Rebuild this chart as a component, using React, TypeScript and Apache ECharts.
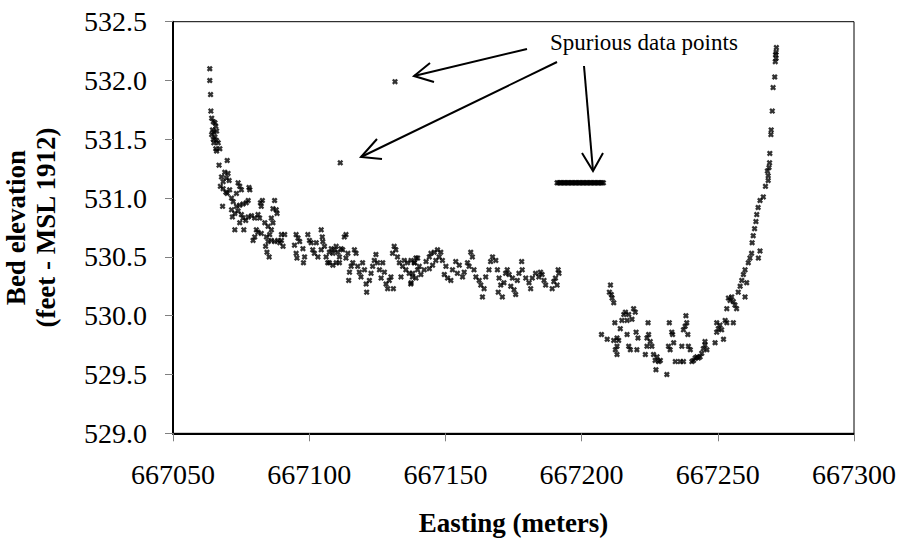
import React, { useEffect, useRef } from "react";
import * as echarts from "echarts";

// Easting (m), bed elevation (ft)
const leftReach: [number, number][] = [
  [667063.5,532.10],[667063.5,532.00],[667063.8,531.88],[667063.9,531.74],[667064.2,531.68],[667064.8,531.65],
  [667065.4,531.64],[667065.7,531.61],[667064.5,531.58],[667065.0,531.56],[667066.0,531.57],[667064.2,531.54],
  [667065.4,531.52],[667064.8,531.50],[667066.0,531.49],[667065.0,531.47],[667066.6,531.47],[667065.7,531.42],
  [667067.2,531.42],[667066.0,531.40],[667066.9,531.28],[667069.9,531.32],[667069.0,531.22],[667070.2,531.21],
  [667067.8,531.18],[667069.6,531.17],[667068.4,531.14],[667070.6,531.15],[667067.4,531.10],[667068.4,531.08],
  [667069.4,531.05],[667070.8,531.07],[667069.9,531.04],[667068.2,530.93],[667071.5,531.00],[667072.1,530.97],
  [667073.3,531.04],[667073.9,531.13],[667074.5,531.10],[667075.1,531.07],[667077.9,531.09],[667078.2,531.07],
  [667077.6,530.98],[667076.9,530.96],[667075.7,530.95],[667074.5,530.94],[667073.3,530.93],[667071.5,530.90],
  [667072.7,530.87],[667071.8,530.84],[667073.9,530.89],[667075.1,530.86],[667075.7,530.83],[667074.5,530.79],
  [667072.7,530.73],[667076.0,530.73],[667076.7,530.81],[667077.6,530.84],[667078.8,530.85],[667080.0,530.83],
  [667081.2,530.86],[667081.8,530.83],[667082.4,530.93],[667082.1,530.96],[667082.8,530.98],[667083.7,530.79],
  [667084.9,530.76],[667086.1,530.83],[667086.7,530.91],[667087.3,530.98],[667087.9,530.90],[667088.2,530.87],
  [667086.7,530.79],[667086.1,530.73],[667085.5,530.69],[667080.6,530.73],[667080.0,530.67],[667079.4,530.64],
  [667081.2,530.71],[667082.4,530.70],[667084.3,530.67],[667084.9,530.63],[667084.0,530.59],[667084.5,530.54],
  [667085.3,530.50],[667086.1,530.64],[667087.3,530.63],[667088.5,530.64],[667089.2,530.62],[667089.8,530.69],
  [667091.0,530.69],[667090.4,530.59],[667089.8,530.64],[667095.2,530.69],[667095.9,530.66],[667096.5,530.63],
  [667094.6,530.60],[667095.2,530.53],[667095.5,530.49],[667097.7,530.57],[667098.3,530.50],[667097.9,530.45],
  [667099.5,530.69],[667100.1,530.64],[667100.7,530.62],[667101.3,530.56],[667101.9,530.53],[667102.6,530.62],
  [667103.2,530.50],[667104.4,530.73],[667104.8,530.67],[667105.0,530.63],[667105.6,530.59],[667104.4,530.56],
  [667106.2,530.50],[667106.8,530.45],[667107.4,530.54],[667108.1,530.57],[667108.7,530.53],[667109.3,530.56],
  [667109.9,530.59],[667110.5,530.54],[667111.1,530.50],[667111.7,530.57],[667112.3,530.56],[667111.1,530.45],
  [667109.9,530.45],[667108.7,530.43],[667107.4,530.45],[667112.9,530.67],[667113.5,530.69],[667113.5,530.49],
  [667114.2,530.53],[667114.8,530.37],[667115.4,530.42],[667114.5,530.30],[667116.0,530.45],[667116.6,530.56],
  [667117.2,530.53],[667117.8,530.42],[667118.4,530.37],[667119.0,530.33],[667119.6,530.45],[667120.3,530.39],
  [667120.9,530.27],[667121.1,530.20],[667122.1,530.30],[667122.7,530.36],[667123.3,530.42],[667123.9,530.47],
  [667124.5,530.52],[667125.1,530.45],[667125.8,530.39],[667126.4,530.32],[667127.0,530.45],[667127.6,530.37],
  [667128.2,530.27],[667128.8,530.23],[667129.4,530.30],[667130.0,530.33],[667130.6,530.53],[667130.9,530.23],
  [667131.2,530.59],[667131.8,530.56],[667132.4,530.50],[667133.1,530.45],[667133.7,530.33],[667134.3,530.42],
  [667134.9,530.47],[667135.5,530.39],[667136.1,530.45],[667136.7,530.36],[667137.3,530.27],[667137.9,530.33],
  [667138.6,530.45],[667139.2,530.49],[667139.8,530.39],
];

const midReach: [number, number][] = [
  [667137.4,530.47],[667138.6,530.45],[667139.8,530.49],[667138.0,530.36],[667137.4,530.28],[667139.2,530.32],
  [667141.0,530.35],[667140.4,530.42],[667142.2,530.39],[667142.9,530.46],[667144.1,530.50],[667144.7,530.53],
  [667145.9,530.54],[667147.1,530.56],[667148.3,530.54],[667147.7,530.50],[667146.5,530.47],[667145.3,530.43],
  [667144.1,530.40],[667148.9,530.47],[667150.2,530.42],[667149.6,530.35],[667150.8,530.32],[667152.0,530.30],
  [667152.6,530.39],[667153.8,530.46],[667155.1,530.43],[667154.4,530.36],[667156.3,530.33],[667156.9,530.37],
  [667158.1,530.45],[667159.3,530.54],[667159.9,530.50],[667158.7,530.42],[667160.5,530.39],[667161.2,530.33],
  [667162.4,530.30],[667163.0,530.26],[667163.6,530.16],[667164.2,530.23],[667164.8,530.33],[667166.0,530.39],
  [667166.6,530.46],[667167.3,530.50],[667168.5,530.47],[667169.1,530.39],[667169.7,530.32],[667170.3,530.26],
  [667169.4,530.20],[667170.9,530.16],[667171.5,530.28],[667172.1,530.36],[667172.7,530.39],[667173.4,530.35],
  [667174.6,530.32],[667174.0,530.25],[667175.2,530.22],[667175.8,530.18],[667176.4,530.30],[667177.0,530.36],
  [667178.0,530.46],[667178.2,530.39],[667179.5,530.32],[667180.7,530.28],[667181.3,530.23],[667181.9,530.32],
  [667183.1,530.36],[667184.3,530.33],[667184.9,530.37],[667185.5,530.35],[667186.2,530.30],[667186.8,530.26],
  [667189.2,530.23],[667189.8,530.29],[667190.4,530.32],[667191.4,530.39],[667191.0,530.26],[667191.7,530.36],
];

const rightReach: [number, number][] = [
  [667210.6,530.26],[667210.2,530.20],[667210.9,530.18],[667211.2,530.15],[667211.8,530.11],[667207.3,529.84],
  [667209.4,529.80],[667211.8,529.79],[667213.0,529.81],[667213.6,529.79],[667213.0,529.74],[667212.4,529.71],
  [667213.0,529.67],[667212.2,529.94],[667214.2,529.89],[667214.8,529.96],[667215.5,530.01],[667216.1,530.03],
  [667216.7,529.96],[667217.3,530.01],[667218.5,529.97],[667219.1,530.06],[667219.7,530.03],[667216.7,529.84],
  [667217.3,529.74],[667217.9,529.71],[667220.3,529.71],[667220.0,529.86],[667220.7,529.81],[667223.4,529.67],
  [667224.0,529.74],[667224.0,529.81],[667224.6,529.84],[667224.4,529.94],[667225.2,529.78],[667225.8,529.74],
  [667226.4,529.67],[667227.0,529.62],[667227.7,529.65],[667227.3,529.54],[667228.3,529.61],[667228.9,529.62],
  [667231.3,529.50],[667231.9,529.74],[667232.5,529.71],[667232.2,529.94],[667233.1,529.86],[667233.4,529.84],
  [667233.8,529.77],[667234.4,529.61],[667236.2,529.61],[667236.8,529.74],[667237.4,529.61],[667237.4,529.88],
  [667238.0,529.91],[667238.3,530.00],[667238.6,529.94],[667239.0,529.84],[667239.2,529.74],[667239.9,529.71],
  [667240.5,529.61],[667241.1,529.62],[667241.7,529.64],[667242.3,529.65],[667242.9,529.64],[667243.5,529.65],
  [667244.1,529.68],[667244.7,529.72],[667245.3,529.75],[667246.0,529.71],[667245.3,529.78],[667249.0,529.77],
  [667249.6,529.86],[667250.2,529.89],[667249.6,529.94],[667250.8,529.92],[667251.4,529.88],[667252.1,529.80],
  [667252.7,529.96],[667253.3,529.94],[667255.7,529.94],[667253.3,530.06],[667253.9,530.15],[667254.5,530.13],
  [667255.1,530.16],[667255.7,530.12],[667256.3,530.09],[667256.9,530.06],[667257.5,530.20],[667258.2,530.25],
  [667258.8,530.30],[667259.4,530.35],[667260.0,530.39],[667260.6,530.28],[667260.0,530.16],[667261.2,530.45],
  [667261.8,530.49],[667262.4,530.53],[667264.9,530.49],[667265.5,530.55],[667262.6,530.62],[667263.0,530.68],
  [667263.5,530.74],[667264.0,530.80],[667264.3,530.86],[667264.8,530.92],[667265.5,530.98],[667266.7,531.01],
  [667267.5,531.10],[667268.5,531.15],[667268.5,531.19],[667268.2,531.23],[667268.8,531.26],[667269.0,531.30],
  [667269.1,531.38],[667269.5,531.54],[667269.6,531.58],[667270.0,531.74],[667270.3,531.94],[667270.9,532.03],
  [667271.1,532.16],[667271.4,532.19],[667271.2,532.22],[667271.4,532.24],[667271.5,532.28],
];

const spuriousPoints: [number, number][] = [[667131.5,531.99],[667111.4,531.30]];

const spuriousBandEasting: number[] = [
  667191.0,667191.5,667192.0,667192.5,667193.0,667193.5,667194.0,667194.5,667195.0,667195.5,667196.0,667196.5,
  667197.0,667197.5,667198.0,667198.5,667199.0,667199.5,667200.0,667200.5,667201.0,667201.5,667202.0,667202.5,
  667203.0,667203.5,667204.0,667204.5,667205.0,667205.5,667206.0,667206.5,667207.0,667207.5,667208.0,
];
const spuriousBandElevation = 531.13;

const xTicks = { min: 667050, max: 667300, interval: 50 };
const yTicks = { min: 529.0, max: 532.5, interval: 0.5 };

const annotationText = "Spurious data points";
const xAxisTitle = "Easting (meters)";
const yAxisTitle = "Bed elevation\n(feet - MSL 1912)";

const CROSS = "path://M0,2.8L2.8,0L5,2.2L7.2,0L10,2.8L7.8,5L10,7.2L7.2,10L5,7.8L2.8,10L0,7.2L2.2,5Z";
const FONT = "Liberation Serif";

export default function App() {
  const ref = useRef<HTMLDivElement>(null);
  useEffect(() => {
    if (!ref.current) return;
    const chart = echarts.init(ref.current, undefined, { renderer: "svg" });
    const band: [number, number][] = spuriousBandEasting.map((x) => [x, spuriousBandElevation]);
    const allData = [...leftReach, ...midReach, ...rightReach, ...spuriousPoints, ...band];
    const line = (x1: number, y1: number, x2: number, y2: number) => ({
      type: "line", shape: { x1, y1, x2, y2 }, style: { stroke: "#000", lineWidth: 2 },
    });
    const head = (pts: number[][]) => ({
      type: "polyline", shape: { points: pts }, style: { stroke: "#000", lineWidth: 2, fill: null },
    });
    chart.setOption({
      animation: false,
      backgroundColor: "#fff",
      grid: {
        left: 173, top: 21.7, right: 52, bottom: 116.7, show: true, borderColor: "#000", borderWidth: 1,
        containLabel: false, outerBoundsMode: "none",
      },
      xAxis: {
        type: "value", min: xTicks.min, max: xTicks.max, interval: xTicks.interval,
        name: xAxisTitle, nameLocation: "middle", nameGap: 76,
        nameTextStyle: { fontFamily: FONT, fontSize: 27, fontWeight: "bold", color: "#000" },
        axisLine: { show: true, lineStyle: { color: "#000", width: 2 } },
        axisTick: { show: true, inside: false, length: 8, lineStyle: { color: "#808080", width: 1 } },
        axisLabel: { fontFamily: FONT, fontSize: 28, color: "#000", margin: 27, formatter: (v: number) => String(v) },
        splitLine: { show: false },
      },
      yAxis: {
        type: "value", min: yTicks.min, max: yTicks.max, interval: yTicks.interval,
        name: yAxisTitle, nameLocation: "middle", nameGap: 112, nameRotate: 90,
        nameTextStyle: { fontFamily: FONT, fontSize: 27, fontWeight: "bold", color: "#000", lineHeight: 30, align: "center" },
        axisLine: { show: true, lineStyle: { color: "#000", width: 2 } },
        axisTick: { show: true, inside: false, length: 8, lineStyle: { color: "#808080", width: 1 } },
        axisLabel: { fontFamily: FONT, fontSize: 28, color: "#000", margin: 26, formatter: (v: number) => v.toFixed(1) },
        splitLine: { show: false },
      },
      series: [
        {
          type: "scatter", data: allData, symbol: CROSS, symbolSize: 6,
          itemStyle: { color: "#000" }, silent: true,
        },
      ],
      graphic: [
        { type: "text", left: 550, top: 31, style: { text: annotationText, fontFamily: FONT, fontSize: 23, fill: "#000" } },
        line(527, 49, 414, 76),
        head([[430, 63], [414, 76], [434, 82]]),
        line(557, 62, 361, 157),
        head([[377, 139], [361, 157], [382, 159]]),
        line(584, 66, 593, 171),
        head([[582, 153], [593, 171], [603, 153]]),
      ],
    });
    return () => chart.dispose();
  }, []);
  return <div ref={ref} style={{ position: "absolute", left: 0, top: 0, width: 906, height: 550 }} />;
}
